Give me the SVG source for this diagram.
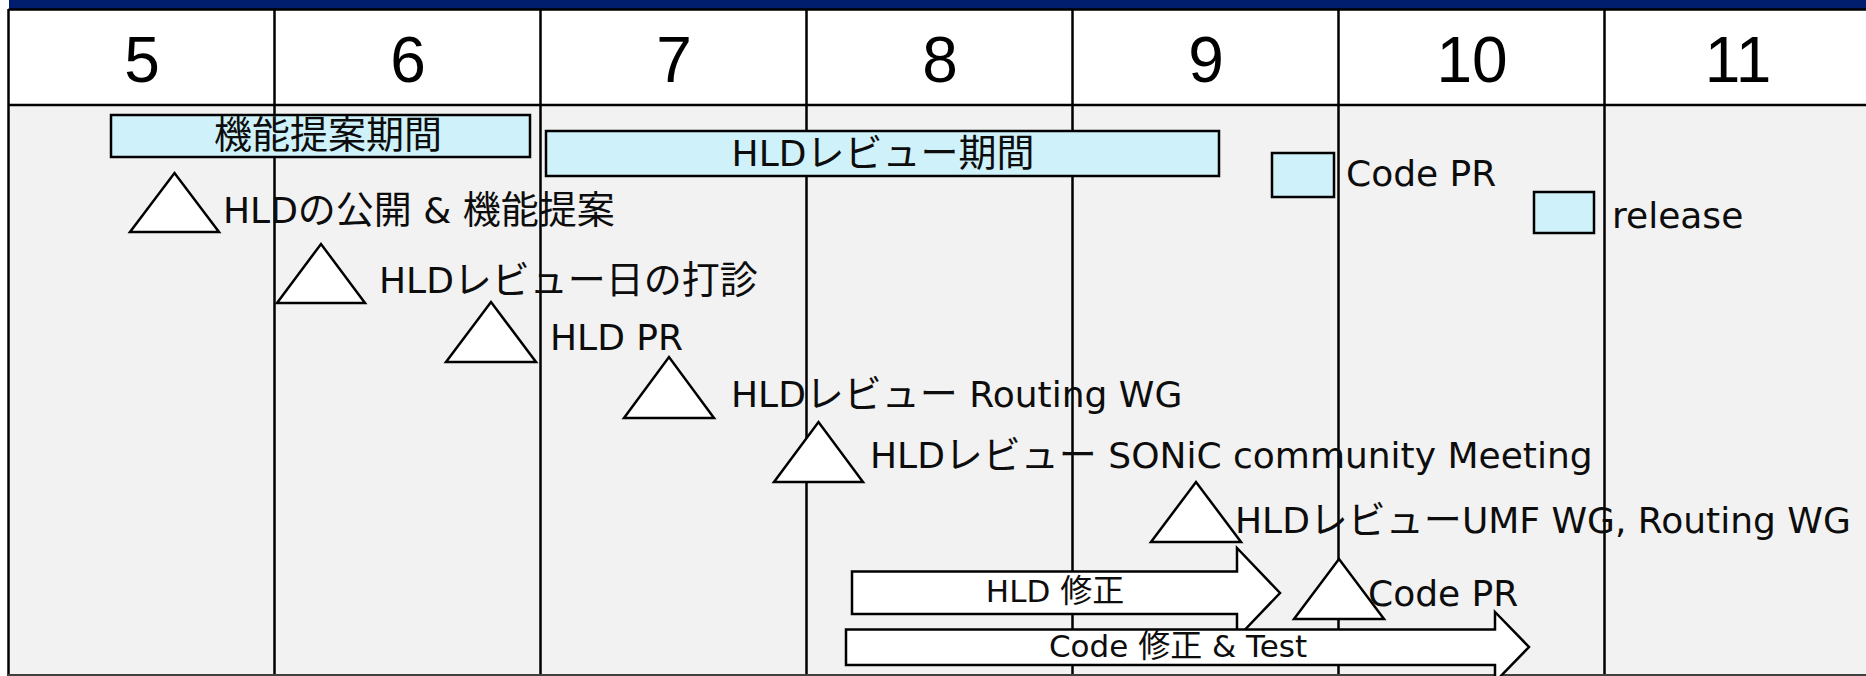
<svg xmlns="http://www.w3.org/2000/svg" width="1866" height="676" viewBox="0 0 1866 676">
<style>
.hd{font-family:"Liberation Sans",Arial,sans-serif;font-size:64px;fill:#000;text-anchor:middle}
.lb{font-family:"DejaVu Sans","Noto Sans CJK JP",sans-serif;font-size:36px;fill:#0d0d0d}
.ar{font-family:"DejaVu Sans","Noto Sans CJK JP",sans-serif;font-size:31px;fill:#0d0d0d;text-anchor:middle}
.j{font-size:38px}
.ar .j{font-size:32px}
.grid{stroke:#000;stroke-width:2.5;fill:none}
.box{fill:#cff2fa;stroke:#000;stroke-width:2.5}
.tri{fill:#fff;stroke:#000;stroke-width:2.5;stroke-linejoin:miter}
.arr{fill:#fff;stroke:#000;stroke-width:2.5}
</style>
<g id="table">
<rect x="0" y="0" width="1866" height="676" fill="#fff"/>
<rect x="9" y="0" width="1857" height="9" fill="#001d6e"/>
<rect x="8.5" y="105" width="1860" height="571" fill="#f2f2f2"/>
<path class="grid" d="M8.5,9.5H1866M8.5,105H1866M8.5,9V676M274.5,9V676M540.5,9V676M806.5,9V676M1072.5,9V676M1338.5,9V676M1604.5,9V676"/>
<path d="M8,675H1866" stroke="#404040" stroke-width="2"/>
<text class="hd" x="142" y="82">5</text>
<text class="hd" x="408" y="82">6</text>
<text class="hd" x="674" y="82">7</text>
<text class="hd" x="940" y="82">8</text>
<text class="hd" x="1206" y="82">9</text>
<text class="hd" x="1472" y="82">10</text>
<text class="hd" x="1738" y="82">11</text>
</g>
<g id="period-proposal">
<rect class="box" x="111" y="115" width="419" height="42"/>
<text class="lb" x="328" y="148" text-anchor="middle"><tspan class="j">機能提案期間</tspan></text>
</g>
<g id="period-review">
<rect class="box" x="546" y="131" width="673" height="45"/>
<text class="lb" x="883" y="166" text-anchor="middle">HLD<tspan class="j">レビュー期間</tspan></text>
</g>
<g id="box-codepr">
<rect class="box" x="1272" y="153" width="62" height="44"/>
<text class="lb" x="1346" y="186">Code PR</text>
</g>
<g id="box-release">
<rect class="box" x="1534" y="192" width="60" height="41"/>
<text class="lb" x="1612" y="228">release</text>
</g>
<g id="arrow-hld-fix">
<path class="arr" d="M852,571.5H1237V548L1280,593L1237,638V614H852Z"/>
<text class="ar" x="1055" y="602">HLD <tspan class="j">修正</tspan></text>
</g>
<g id="arrow-code-fix">
<path class="arr" d="M846,629.5H1495V612L1529,647L1495,682V665H846Z"/>
<text class="ar" x="1178" y="657">Code <tspan class="j">修正</tspan> &amp; Test</text>
</g>
<g id="ms1">
<polygon class="tri" points="130,232 174.5,173 219,232"/>
<text class="lb" x="223" y="223">HLD<tspan class="j">の公開</tspan> &amp; <tspan class="j">機能提案</tspan></text>
</g>
<g id="ms2">
<polygon class="tri" points="277,303 321,244 365,303"/>
<text class="lb" x="379" y="293">HLD<tspan class="j">レビュー日の打診</tspan></text>
</g>
<g id="ms3">
<polygon class="tri" points="446,362 491,302 536,362"/>
<text class="lb" x="550" y="350">HLD PR</text>
</g>
<g id="ms4">
<polygon class="tri" points="624,418 669,357 714,418"/>
<text class="lb" x="731" y="407">HLD<tspan class="j">レビュー</tspan> Routing WG</text>
</g>
<g id="ms5">
<polygon class="tri" points="774,482 818.5,422 863,482"/>
<text class="lb" x="870" y="468">HLD<tspan class="j">レビュー</tspan> SONiC community Meeting</text>
</g>
<g id="ms6">
<polygon class="tri" points="1151,542 1196,482 1241,542"/>
<text class="lb" x="1235" y="533">HLD<tspan class="j">レビュー</tspan>UMF WG, Routing WG</text>
</g>
<g id="ms7">
<polygon class="tri" points="1294,619 1339,559 1384,619"/>
<text class="lb" x="1368" y="606">Code PR</text>
</g>
</svg>
